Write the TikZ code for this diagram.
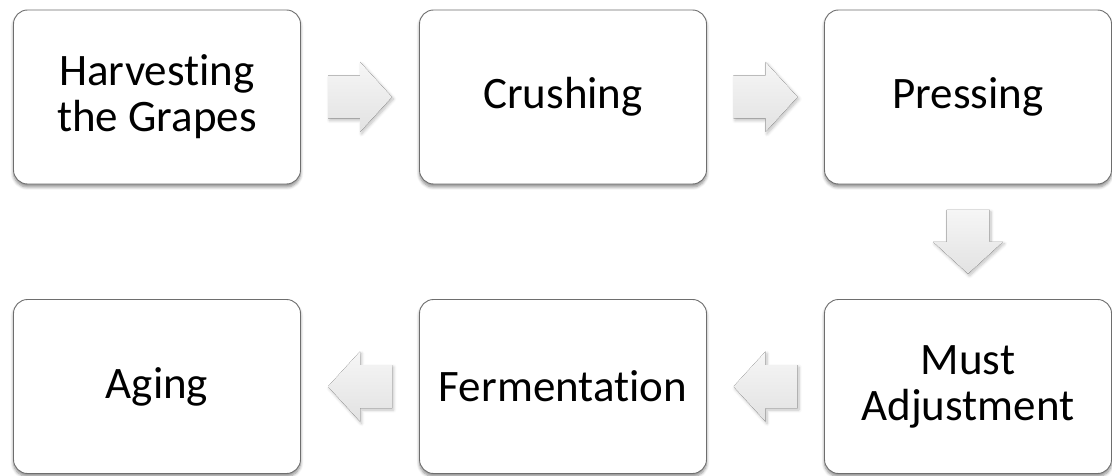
\documentclass[tikz,border=0pt]{standalone}
\usepackage{fontspec}
\setmainfont{Carlito}[Ligatures={NoCommon,NoDiscretionary,NoRare,NoHistoric}]
\usetikzlibrary{calc,shadows.blur}
\definecolor{boxline}{RGB}{110,110,110}
\definecolor{arrtop}{RGB}{246,246,246}
\definecolor{arrbot}{RGB}{226,226,226}
\tikzset{
  stepbox/.style={draw=boxline, line width=0.9pt, fill=white, rounded corners=14pt,
    minimum width=287pt, minimum height=174pt, align=center, inner sep=0pt,
    font=\fontsize{45}{46}\selectfont, text=black,
    blur shadow={shadow xshift=0pt, shadow yshift=-3pt, shadow blur radius=3pt, shadow blur steps=6, shadow opacity=45}},
  flowarrow/.pic={
    \fill[top color=arrtop, bottom color=arrbot,
      blur shadow={shadow xshift=1.5pt, shadow yshift=-2pt, shadow blur radius=3pt, shadow blur steps=6, shadow opacity=25}]
      (-32,-21.5) -- (0,-21.5) -- (0,-35) -- (32,0) -- (0,35) -- (0,21.5) -- (-32,21.5) -- cycle;
  }
}
\begin{document}
\begin{tikzpicture}[x=1pt,y=1pt]
\useasboundingbox (0,0) rectangle (1112,475);
\node[stepbox] (n1) at (157,378) {Harvesting\\the Grapes};
\node[stepbox] (n2) at (563,378) {Crushing};
\node[stepbox] (n3) at (968,378) {Pressing};
\node[stepbox] (n4) at (968,88.5) {Must\\Adjustment};
\node[stepbox] (n5) at (563,88.5) {Fermentation};
\node[stepbox] (n6) at (157,88.5) {Aging};
\coordinate (m12) at ($(n1.east)!0.5!(n2.west)$);
\coordinate (m23) at ($(n2.east)!0.5!(n3.west)$);
\coordinate (m34) at ($(n3.south)!0.5!(n4.north)$);
\coordinate (m45) at ($(n4.west)!0.5!(n5.east)$);
\coordinate (m56) at ($(n5.west)!0.5!(n6.east)$);
\pic at (m12) {flowarrow};
\pic at (m23) {flowarrow};
\pic[rotate=-90] at (m34) {flowarrow};
\pic[rotate=180] at (m45) {flowarrow};
\pic[rotate=180] at (m56) {flowarrow};
\end{tikzpicture}
\end{document}
